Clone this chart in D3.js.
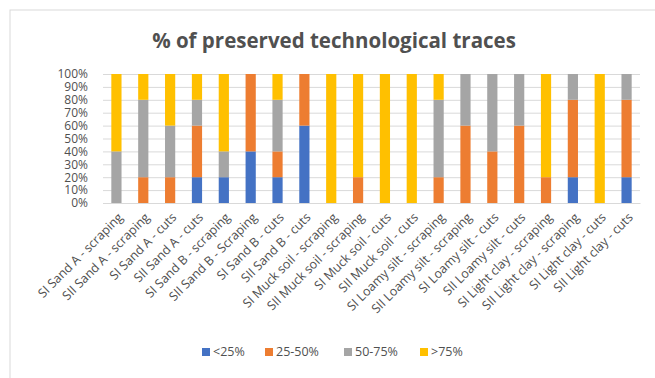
<!DOCTYPE html>
<html><head><meta charset="utf-8">
<script src="https://cdn.jsdelivr.net/npm/d3@7/dist/d3.min.js"></script>
<style>
body{margin:0;background:#fff;}
text{font-family:"Open Sans",sans-serif;}
</style></head>
<body><svg id="c" width="655" height="378"></svg>
<script>
const categories = ["SI Sand A - scraping","SII Sand A - scraping","SI Sand A - cuts","SII Sand A - cuts","SI Sand B - scraping","SII Sand B - Scraping","SI Sand B - cuts","SII Sand B - cuts","SI Muck soil - scraping","SII Muck soil - scraping","SI Muck soil - cuts","SII Muck soil - cuts","SI Loamy silt - scraping","SII Loamy silt - scraping","SI Loamy silt - cuts","SII Loamy silt - cuts","SI Light clay - scraping","SII Light clay - scraping","SI Light clay - cuts","SII Light clay - cuts"];
const seriesNames = ["<25%","25-50%","50-75%",">75%"];
const lt25   = [0,0,0,20,20,40,20,60,0,0,0,0,0,0,0,0,0,20,0,20];
const p25_50 = [0,20,20,40,0,60,20,40,0,20,0,0,20,60,40,60,20,60,0,60];
const p50_75 = [40,60,40,20,20,0,40,0,0,0,0,0,60,40,60,40,0,20,0,20];
const gt75   = [60,20,40,20,60,0,20,0,100,80,100,100,20,0,0,0,80,0,100,0];
const yTicks = [0,10,20,30,40,50,60,70,80,90,100];
const colors = ["#4472C4","#ED7D31","#A5A5A5","#FFC000"];

const svg = d3.select("#c");
// chart frame
svg.append("rect").attr("x",10).attr("y",10).attr("width",660).attr("height",380)
  .attr("fill","#fff").attr("stroke","#D9D9D9").attr("stroke-width",1);

const m = {left:103, right:640, top:74, bottom:203};
const x = d3.scaleBand().domain(categories).range([m.left,m.right]).paddingInner(0.62).paddingOuter(0.31);
const y = d3.scaleLinear().domain([0,100]).range([m.bottom,m.top]);

// gridlines
svg.append("g").selectAll("line").data(yTicks).join("line")
  .attr("x1",m.left).attr("x2",m.right)
  .attr("y1",d=>y(d)+0.5).attr("y2",d=>y(d)+0.5)
  .attr("stroke","#D9D9D9").attr("stroke-width",1);

// y axis
const ya = svg.append("g").attr("transform",`translate(${m.left},0)`)
  .call(d3.axisLeft(y).tickValues(yTicks).tickFormat(d=>d+"%").tickSize(0).tickPadding(15));
ya.select(".domain").remove();
ya.selectAll("text").attr("font-size",12).attr("fill","#505050").style("font-family","'Open Sans',sans-serif");

// stack
const table = categories.map((c,i)=>({cat:c, s0:lt25[i], s1:p25_50[i], s2:p50_75[i], s3:gt75[i]}));
const stack = d3.stack().keys(["s0","s1","s2","s3"])(table);
svg.append("g").selectAll("g").data(stack).join("g")
  .attr("fill",(d,i)=>colors[i])
  .selectAll("rect").data(d=>d).join("rect")
  .attr("x",d=>x(d.data.cat)).attr("width",x.bandwidth())
  .attr("y",d=>y(d[1])).attr("height",d=>y(d[0])-y(d[1]));

// x axis labels
const xa = svg.append("g").attr("transform",`translate(0,${m.bottom})`)
  .call(d3.axisBottom(x).tickSize(0).tickPadding(0));
xa.select(".domain").attr("stroke","#D9D9D9");
xa.selectAll("text")
  .attr("font-size",12.5).attr("fill","#505050").style("font-family","'Open Sans',sans-serif")
  .attr("text-anchor","end")
  .attr("transform","translate(4,12) rotate(-45)")
  .attr("dy","0.35em").attr("y",0).attr("x",0);

// title
svg.append("text").attr("x",334).attr("y",48).attr("text-anchor","middle")
  .attr("font-size",20.5).attr("font-weight","bold").attr("fill","#505050")
  .text("% of preserved technological traces");

// legend
const legX = [202,265,344,420];
const lg = svg.append("g").selectAll("g").data(seriesNames).join("g")
  .attr("transform",(d,i)=>`translate(${legX[i]},352)`);
lg.append("rect").attr("x",0).attr("y",-4).attr("width",8).attr("height",8).attr("fill",(d,i)=>colors[i]);
lg.append("text").attr("x",11).attr("y",0).attr("dy","0.35em").attr("font-size",12.5).attr("fill","#505050").text(d=>d);
</script></body></html>
